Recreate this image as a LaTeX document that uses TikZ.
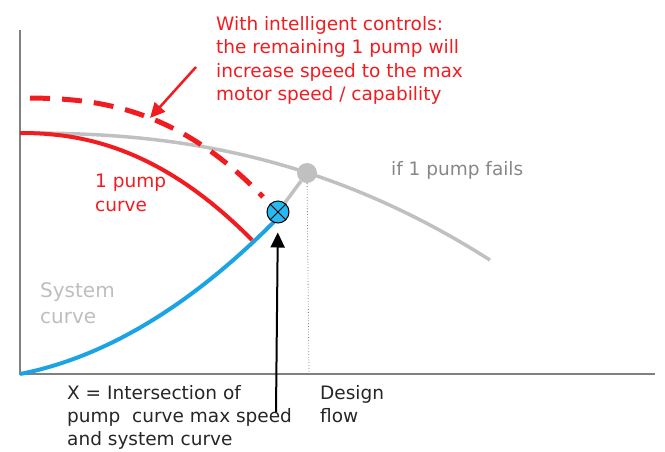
\documentclass[tikz,border=0pt]{standalone}
\usepackage{fontspec}
\setmainfont{DejaVu Sans}
\usetikzlibrary{arrows.meta,backgrounds,positioning}
\definecolor{pumpred}{RGB}{240,28,32}
\definecolor{sysblue}{RGB}{28,163,227}
\definecolor{markblue}{RGB}{40,185,240}
\definecolor{curvegray}{RGB}{192,192,192}
\definecolor{axisgray}{RGB}{128,128,128}
\definecolor{syslabel}{RGB}{190,190,190}
\definecolor{faillabel}{RGB}{135,135,135}
\tikzset{
	>={Triangle[length=15pt,width=14pt]},
	every node/.style={inner sep=0pt, align=left},
	label/.style={font=\fontsize{18.5}{23.5}\selectfont, anchor=north west, text=black!85},
	redlabel/.style={label, text=pumpred},
	axis/.style={draw=axisgray, line width=2pt},
	twopump/.style={draw=curvegray, line width=3.5pt},
	onepump/.style={draw=pumpred, line width=4pt},
	maxspeed/.style={draw=pumpred, line width=5pt, dash pattern=on 20pt off 12pt},
	system/.style={draw=sysblue, line width=4pt},
	marker/.style={circle, draw=black, fill=markblue, line width=1pt, minimum size=22pt},
	dutypoint/.style={circle, fill=curvegray, minimum size=20pt},
	dotline/.style={draw=axisgray, line width=0.8pt, dotted},
}

\begin{document}
\begin{tikzpicture}[x=1pt,y=-1pt]
	\useasboundingbox (0,0) rectangle (665,451);
	\coordinate (origin) at (20,374);
	\coordinate (ytop) at (20,30);
	\coordinate (xend) at (655,374);
	\coordinate (flow) at (309,374);
	\coordinate (tip) at (150,118);
	\coordinate (tail) at (196,67);
	\coordinate (foot) at (276,412);

	\node[marker] (x) at (278,212) {};
	\node[dutypoint] (duty) at (307,173) {};
	\draw[line width=1pt] (x.45) -- (x.225) (x.135) -- (x.315);

	\node[redlabel] (note) at (216,16) {With intelligent controls:\\the remaining 1 pump will\\increase speed to the max\\motor speed / capability};
	\node[redlabel] (one) at (95,174) {1 pump\\curve};
	\node[label, text=syslabel, font=\fontsize{20}{26}\selectfont] (sys) at (40,282) {System\\curve};
	\node[label, text=faillabel] (fail) at (391,161) {if 1 pump fails};
	\node[label, font=\fontsize{18.5}{23}\selectfont] (inter) at (67,385) {X = Intersection of\\pump\ \ curve max speed\\and system curve};
	\node[label, font=\fontsize{18.5}{23}\selectfont] (design) at (320,385) {Design\\flow};

	\begin{scope}[on background layer]
		\draw[axis] (ytop) -- (origin) -- (xend);
		\draw[dotline] (duty) -- (flow);
		\draw[twopump] plot[domain=0.1:470, samples=60] ({20+\x},{133+40*(\x/288)^2.36});
		\draw[onepump] plot[domain=0.1:232, samples=40] ({20+\x},{133+105*(\x/230)^2.2});
		\draw[maxspeed] plot[domain=10:243, samples=40] ({20+\x},{98+99*(\x/243)^2.56});
		\draw[system] plot[domain=0:258, samples=50] ({20+\x},{374-0.196*\x-0.001592*\x*\x});
		\draw[twopump] (x) -- (duty);
	\end{scope}

	\draw[->, draw=pumpred, fill=pumpred, line width=2.5pt] (tail) -- (tip);
	\draw[->, draw=black, line width=2pt, shorten >=9pt] (foot) -- (x);
\end{tikzpicture}
\end{document}
